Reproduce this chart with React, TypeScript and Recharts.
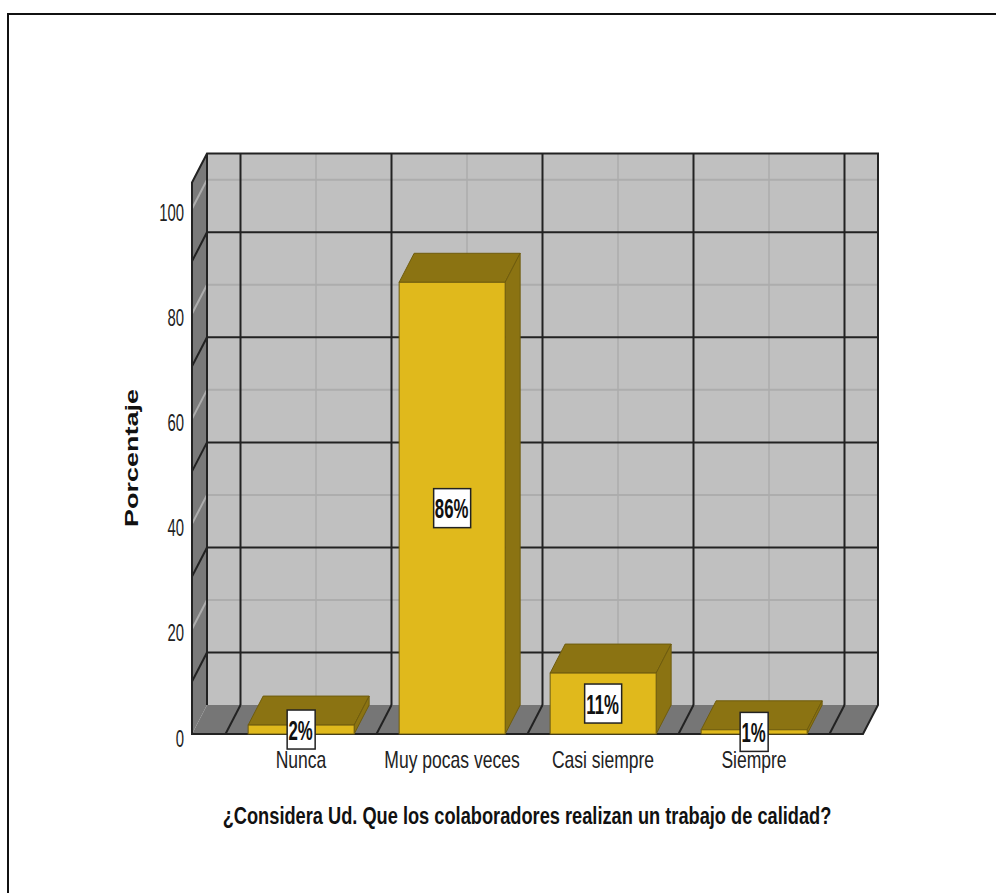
import { BarChart, Bar, XAxis, YAxis, ReferenceLine, ReferenceArea, LabelList, Label } from 'recharts';

const categories = ['Nunca', 'Muy pocas veces', 'Casi siempre', 'Siempre'];
const percentages = [1.7, 86, 11.6, 0.8];
const percentLabels = ['2%', '86%', '11%', '1%'];
const yTicks = [0, 20, 40, 60, 80, 100];
const minorLines = [10, 30, 50, 70, 90];
const bandEdges = [0, 1, 2, 3, 4];

const data = categories.map((name, i) => ({ name, value: percentages[i], label: percentLabels[i] }));

/* depth of the fake 3D box */
const DX = 15;
const DY = -29;
const YELLOW = '#e0b91c';
const DARK_YELLOW = '#8b7312';
const BOX_EDGE = '#6f5c0e';
const FONT = '"Liberation Sans", Arial, sans-serif';
const EDGE_MIN = -0.2219;
const EDGE_MAX = 4.2219;

function Walls({ x, y, width, height }: any) {
  const bottom = y + height;
  return (
    <g>
      <polygon points={`${x + DX},${y + DY} ${x + width + DX},${y + DY} ${x + width + DX},${bottom + DY} ${x + DX},${bottom + DY}`} fill="#c0c0c0" />
      <polygon points={`${x},${y} ${x + DX},${y + DY} ${x + DX},${bottom + DY} ${x},${bottom}`} fill="#7a7a7a" />
      <polygon points={`${x},${bottom} ${x + DX},${bottom + DY} ${x + width + DX},${bottom + DY} ${x + width},${bottom}`} fill="#767676" />
    </g>
  );
}

function Edges({ x, y, width, height }: any) {
  const bottom = y + height;
  return (
    <path
      d={`M${x},${y} L${x + DX},${y + DY} L${x + width + DX},${y + DY} L${x + width + DX},${bottom + DY} L${x + width},${bottom} L${x},${bottom} Z M${x + DX},${y + DY} L${x + DX},${bottom + DY}`}
      fill="none"
      stroke="#222"
      strokeWidth={2}
    />
  );
}

function WallLineH({ x1, y1, x2, stroke, strokeWidth }: any) {
  return (
    <g>
      <line x1={x1} y1={y1} x2={x1 + DX} y2={y1 + DY} stroke={stroke} strokeWidth={strokeWidth} />
      <line x1={x1 + DX} y1={y1 + DY} x2={x2 + DX} y2={y1 + DY} stroke={stroke} strokeWidth={strokeWidth} />
    </g>
  );
}

function CenterLine({ x1, y1, y2, stroke }: any) {
  const top = Math.min(y1, y2);
  const bottom = Math.max(y1, y2);
  return <line x1={x1 + DX} y1={top + DY} x2={x1 + DX} y2={bottom + DY} stroke={stroke} strokeWidth={1.5} />;
}

function EdgeLine({ x1, y1, y2, stroke }: any) {
  const top = Math.min(y1, y2);
  const bottom = Math.max(y1, y2);
  return (
    <g>
      <line x1={x1 + DX} y1={top + DY} x2={x1 + DX} y2={bottom + DY} stroke={stroke} strokeWidth={2} />
      <line x1={x1} y1={bottom} x2={x1 + DX} y2={bottom + DY} stroke={stroke} strokeWidth={2} />
    </g>
  );
}

function Box3D({ x, y, width, height }: any) {
  const r = x + width;
  const b = y + height;
  return (
    <g stroke={BOX_EDGE} strokeWidth={1}>
      <polygon points={`${x},${y} ${x + DX},${y + DY} ${r + DX},${y + DY} ${r},${y}`} fill={DARK_YELLOW} />
      <polygon points={`${r},${y} ${r + DX},${y + DY} ${r + DX},${b + DY} ${r},${b}`} fill={DARK_YELLOW} />
      <rect x={x} y={y} width={width} height={height} fill={YELLOW} />
    </g>
  );
}

function ValueBox({ x, y, width, height, value }: any) {
  const cx = x + width / 2;
  const cy = y + height / 2;
  const w = String(value).length > 2 ? 37 : 28;
  return (
    <g>
      <rect x={cx - w / 2} y={cy - 19.5} width={w} height={39} fill="#fff" stroke="#222" strokeWidth={1.5} />
      <text
        transform={`translate(${cx - 0.5},${cy + 10}) scale(0.6,1)`}
        textAnchor="middle"
        fontFamily={FONT}
        fontSize={28}
        fontWeight="bold"
        fill="#111"
      >
        {value}
      </text>
    </g>
  );
}

function CondensedTick({ x, y, payload, anchor, dy, sx }: any) {
  return (
    <text
      transform={`translate(${x},${y + dy}) scale(${sx},1)`}
      textAnchor={anchor}
      fontFamily={FONT}
      fontSize={24}
      fill="#222"
    >
      {payload.value}
    </text>
  );
}

function XTitle() {
  return (
    <text transform="translate(527,824) scale(0.76,1)" textAnchor="middle" fontFamily={FONT} fontSize={24} fontWeight="bold" fill="#111">
      ¿Considera Ud. Que los colaboradores realizan un trabajo de calidad?
    </text>
  );
}

function YTitle() {
  return (
    <text transform="translate(138,458) rotate(-90) scale(1.5,1)" textAnchor="middle" fontFamily={FONT} fontSize={18} fontWeight="bold" fill="#111">
      Porcentaje
    </text>
  );
}

export default function App() {
  return (
    <div style={{ position: 'absolute', left: 0, top: 0, width: 996, height: 893, background: '#fff', overflow: 'hidden' }}>
      <div style={{ position: 'absolute', left: 7, top: 13, width: 989, height: 880, borderLeft: '2px solid #111', borderTop: '2px solid #111' }} />
      <BarChart
        width={996}
        height={893}
        data={data}
        margin={{ top: 182.5, right: 133, bottom: 119, left: 132 }}
        barCategoryGap="15%"
        style={{ position: 'absolute', left: 0, top: 0 }}
      >
        <XAxis
          dataKey="name"
          height={40}
          padding={{ left: 33.5, right: 33.5 }}
          axisLine={false}
          tickLine={false}
          interval={0}
          tick={<CondensedTick anchor="middle" dy={26} sx={0.73} />}
        >
          <Label content={<XTitle />} />
        </XAxis>
        {/* hidden numeric axis, 0..4 are the category band edges */}
        <XAxis xAxisId="edges" dataKey="value" type="number" domain={[EDGE_MIN, EDGE_MAX]} allowDataOverflow hide />
        <YAxis
          width={60}
          domain={[0, 105]}
          ticks={yTicks}
          axisLine={false}
          tickLine={false}
          interval={0}
          tick={<CondensedTick anchor="end" dy={12.5} sx={0.62} />}
        >
          <Label content={<YTitle />} />
        </YAxis>

        <ReferenceArea xAxisId="edges" x1={EDGE_MIN} x2={EDGE_MAX} y1={0} y2={105} shape={<Walls />} zIndex={-90} />
        {yTicks.slice(1).map((v) => (
          <ReferenceLine key={v} y={v} stroke="#adadad" strokeWidth={2} shape={<WallLineH />} zIndex={-80} />
        ))}
        {categories.map((c) => (
          <ReferenceLine key={c} x={c} stroke="#adadad" shape={<CenterLine />} zIndex={-80} />
        ))}
        {minorLines.map((v) => (
          <ReferenceLine key={v} y={v} stroke="#222" strokeWidth={2} shape={<WallLineH />} zIndex={-70} />
        ))}
        {bandEdges.map((v) => (
          <ReferenceLine key={v} xAxisId="edges" x={v} stroke="#222" shape={<EdgeLine />} zIndex={-70} />
        ))}
        <ReferenceArea xAxisId="edges" x1={EDGE_MIN} x2={EDGE_MAX} y1={0} y2={105} shape={<Edges />} zIndex={-60} />

        <Bar dataKey="value" shape={<Box3D />} isAnimationActive={false}>
          <LabelList dataKey="label" content={<ValueBox />} />
        </Bar>
      </BarChart>
    </div>
  );
}
